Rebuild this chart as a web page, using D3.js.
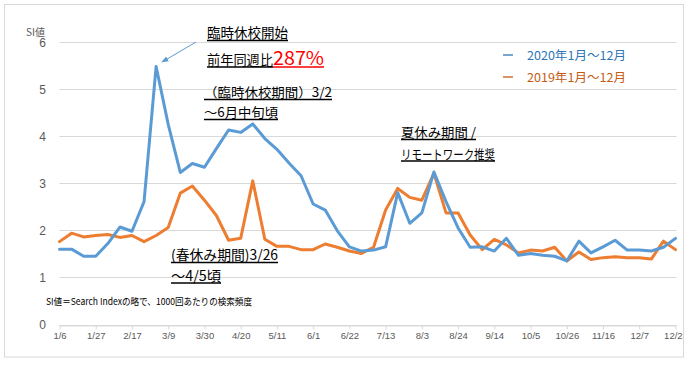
<!DOCTYPE html>
<html><head><meta charset="utf-8">
<script src="https://cdn.jsdelivr.net/npm/d3@7"></script>
<style>body{margin:0;background:#fff}svg{display:block}</style>
</head><body>
<svg id="c" width="692" height="366"></svg>
<script>
const weeks = ["1/6","1/13","1/20","1/27","2/3","2/10","2/17","2/24","3/2","3/9","3/16","3/23","3/30","4/6","4/13","4/20","4/27","5/4","5/11","5/18","5/25","6/1","6/8","6/15","6/22","6/29","7/6","7/13","7/20","7/27","8/3","8/10","8/17","8/24","8/31","9/7","9/14","9/21","9/28","10/5","10/12","10/19","10/26","11/2","11/9","11/16","11/23","11/30","12/7","12/14","12/21","12/28"];
const si2020 = [1.60,1.60,1.45,1.45,1.72,2.07,1.98,2.61,5.48,4.25,3.23,3.42,3.34,3.74,4.13,4.08,4.26,3.95,3.72,3.43,3.16,2.56,2.43,1.99,1.65,1.56,1.58,1.65,2.80,2.15,2.37,3.24,2.61,2.05,1.64,1.65,1.56,1.83,1.47,1.51,1.47,1.45,1.35,1.77,1.52,1.65,1.79,1.58,1.58,1.56,1.64,1.83];
const si2019 = [1.76,1.94,1.86,1.89,1.91,1.85,1.89,1.76,1.89,2.06,2.79,2.94,2.64,2.31,1.79,1.83,3.05,1.81,1.66,1.66,1.59,1.59,1.71,1.64,1.56,1.51,1.64,2.43,2.89,2.70,2.64,3.21,2.37,2.37,1.90,1.59,1.81,1.69,1.52,1.58,1.56,1.64,1.35,1.54,1.38,1.42,1.44,1.42,1.42,1.39,1.77,1.59];
const yTicks = [0,1,2,3,4,5,6];
const seriesNames = ["2020年1月～12月","2019年1月～12月"];
const colors = ["#5B9BD5","#ED7D31"];
const legendColors = ["#2E75B6","#C55A11"];

const svg = d3.select("#c");
const CJK = "'Noto Sans CJK JP', 'Noto Sans', sans-serif";
const defs = svg.append("defs");
defs.append("clipPath").attr("id","frame").append("rect").attr("x",0).attr("y",0).attr("width",683).attr("height",366);
svg.append("rect").attr("x",4.5).attr("y",4.5).attr("width",679).attr("height",352.5)
  .attr("fill","#fff").attr("stroke","#D9D9D9").attr("stroke-width",1);

const x = d3.scalePoint().domain(weeks).range([59.5, 675.5]);
const y = d3.scaleLinear().domain([0,6]).range([324.5, 42]);

// gridlines
svg.append("g").selectAll("line").data(yTicks).join("line")
  .attr("x1",59.5).attr("x2",676.5)
  .attr("y1",d=>Math.round(y(d))+0.5).attr("y2",d=>Math.round(y(d))+0.5)
  .attr("stroke","#D9D9D9").attr("stroke-width",1);

// y axis labels
svg.append("g").selectAll("text").data(yTicks).join("text")
  .attr("x",46).attr("y",d=>y(d)+4.5).attr("text-anchor","end")
  .attr("font-family","'Liberation Sans', Arial, sans-serif").attr("font-size",12)
  .attr("fill","#595959").text(d=>d);

// x axis
const xTickVals = weeks.filter((d,i)=>i%3===0);
const xAxis = d3.axisBottom(x).tickValues(xTickVals).tickSize(4).tickSizeOuter(0);
const gx = svg.append("g").attr("clip-path","url(#frame)").append("g")
  .attr("transform","translate(0,"+(Math.round(y(0))+0.5)+")").call(xAxis);
gx.select(".domain").attr("stroke","#D9D9D9");
gx.selectAll(".tick line").attr("stroke","#D9D9D9");
gx.selectAll(".tick text").attr("fill","#595959").attr("font-size",9.5)
  .attr("font-family","'Liberation Sans', Arial, sans-serif").attr("dy","0.9em").attr("y",5);

// lines
const line = d3.line().x((d,i)=>x(weeks[i])).y(d=>y(d));
[si2019, si2020].forEach((s,k)=>{
  svg.append("path").datum(s).attr("d",line).attr("fill","none")
    .attr("stroke", k===0?colors[1]:colors[0]).attr("stroke-width",3)
    .attr("stroke-linejoin","round").attr("stroke-linecap","round");
});

// SI値 label
svg.append("text").attr("x",26).attr("y",35.5).attr("font-family",CJK).attr("font-size",10)
  .attr("fill","#595959").text("SI値");

// underlined annotations
function ann(txt, xx, yy, fs, w, color){
  const t = svg.append("text").attr("x",xx).attr("y",yy).attr("font-family",CJK)
    .attr("font-size",fs).attr("fill",color||"#000").text(txt);
  if (w) t.attr("textLength",w).attr("lengthAdjust","spacingAndGlyphs");
  const len = w || t.node().getComputedTextLength();
  svg.append("line").attr("x1",xx).attr("x2",xx+len).attr("y1",yy+2.5).attr("y2",yy+2.5)
    .attr("stroke",color||"#000").attr("stroke-width",1.6);
  return len;
}
ann("臨時休校開始",207,38,13.5,81);
ann("前年同週比",207,64.5,13.2,66);
ann("287%",273,64.5,19,51,"#FF0000");
ann("（臨時休校期間）3/2",204,97,13,128);
ann("～6月中旬頃",204,117,13,74);
ann("夏休み期間 /",401,137,13,75);
ann("リモートワーク推奨",401,158.5,13,94);
ann("(春休み期間)3/26",171,260,14,107);
ann("～4/5頃",171,280.5,14,50);

// arrow
defs.append("marker").attr("id","ah").attr("viewBox","0 0 10 10").attr("refX",9).attr("refY",5)
  .attr("markerWidth",7).attr("markerHeight",7).attr("orient","auto")
  .append("path").attr("d","M0,1 L10,5 L0,9 Z").attr("fill","#5B9BD5");
svg.append("line").attr("x1",196).attr("y1",42).attr("x2",162).attr("y2",62)
  .attr("stroke","#5B9BD5").attr("stroke-width",1).attr("marker-end","url(#ah)");

// footnote
svg.append("text").attr("x",46).attr("y",305).attr("font-family",CJK).attr("font-size",9.5)
  .attr("fill","#000").attr("textLength",206).attr("lengthAdjust","spacingAndGlyphs")
  .text("SI値＝Search Indexの略で、1000回あたりの検索頻度");

// legend
seriesNames.forEach((n,i)=>{
  const ly = 55 + i*22;
  svg.append("line").attr("x1",503).attr("x2",513).attr("y1",ly).attr("y2",ly)
    .attr("stroke",legendColors[i]).attr("stroke-width",1.3);
  svg.append("text").attr("x",527).attr("y",ly+4.5).attr("font-family",CJK).attr("font-size",12)
    .attr("fill",legendColors[i]).attr("textLength",99).attr("lengthAdjust","spacingAndGlyphs").text(n);
});
</script>
</body></html>
